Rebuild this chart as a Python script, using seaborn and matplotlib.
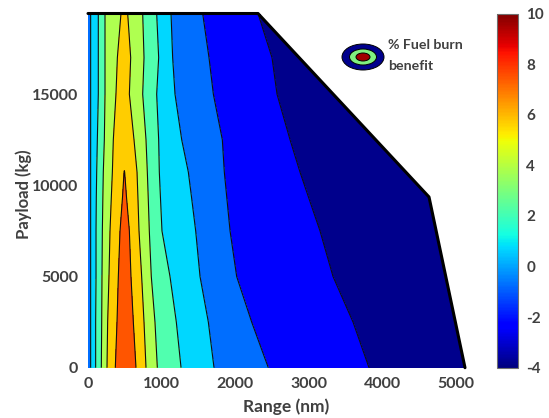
import numpy as np
import matplotlib
matplotlib.use('Agg')
import matplotlib.pyplot as plt
from matplotlib.cm import ScalarMappable
from matplotlib.colors import Normalize
from matplotlib.patches import Ellipse
import seaborn as sns

# payload values (kg) at which the contour crossings were read
payload = [0, 2500, 5000, 7500, 9360, 10730, 12500, 15000, 17000, 19420]

# range (nm) where each contour crosses, one list per contour, same order as payload
left_edge = [0, 0, 0, 0, 0, 0, 0, 0, 0, 0]
c_1_l = [36, 36, 36, 36, 36, 36, 36, 36, 36, 36]
c_3_l = [104, 104, 109, 109, 113, 118, 127, 140, 140, 140]
c_4_l = [181, 186, 190, 195, 202, 208, 222, 231, 231, 231]
c_6_l = [258, 267, 285, 299, 317, 331, 344, 380, 399, 448]
c_8_l = [371, 394, 412, 435, 469, 490, 475, 475, 480, 485]
top = [500, 500, 500, 500, 496, 494, 485, 485, 490, 492]
c_8_r = [652, 616, 584, 562, 523, 498, 495, 495, 500, 499]
c_6_r = [788, 761, 729, 693, 678, 666, 625, 562, 580, 539]
c_4_r = [942, 910, 860, 833, 818, 806, 788, 743, 761, 743]
c_3_r = [1264, 1200, 1114, 1005, 984, 969, 960, 933, 960, 933]
c_1_r = [1712, 1635, 1522, 1463, 1406, 1363, 1273, 1182, 1150, 1128]
c_m_r = [2450, 2224, 2020, 1930, 1885, 1852, 1825, 1703, 1644, 1558]
c_mm_r = [3818, 3601, 3329, 3152, 2995, 2880, 2745, 2568, 2500, 2310]
right_edge = [5122, 4992, 4861, 4730, 4633, 4317, 3908, 3331, 2869, 2320]

# fuel burn benefit (%) along each of those lists
z_left = -0.3
z_top_peak = [9.5, 9.5, 9.5, 9.5, 9.0, 8.26, 8.0, 8.0, 8.0, 8.0]
z_right = -3.0

levels = [-4, -2.25, -0.5, 1.25, 3, 4.75, 6.5, 8.25, 10]
band_colors = ['#00008c', '#0000ff', '#006eff', '#00d7ff',
               '#50ffaf', '#afff50', '#ffcd00', '#ff5500']

# flight envelope
env_range = [0, 2310, 4633, 5122]
env_payload = [19420, 19420, 9360, 0]

cbar_ticks = [-4, -2, 0, 2, 4, 6, 8, 10]
x_ticks = [0, 1000, 2000, 3000, 4000, 5000]
y_ticks = [0, 5000, 10000, 15000]

sns.set_theme(style='white')
plt.rcParams['font.family'] = ['Lato', 'DejaVu Sans']
plt.rcParams['axes.unicode_minus'] = False
grey = '#404040'

n = len(payload)
X = np.array([left_edge, c_1_l, c_3_l, c_4_l, c_6_l, c_8_l, top, c_8_r,
              c_6_r, c_4_r, c_3_r, c_1_r, c_m_r, c_mm_r, right_edge]).T
Y = np.tile(np.array(payload)[:, None], (1, X.shape[1]))
Z = np.zeros_like(X, dtype=float)
for i in range(n):
    below_tip = payload[i] <= 10730
    c8 = 8.25 if below_tip else 8.0
    Z[i] = [z_left, 1.25, 3, 4.75, 6.5, c8, z_top_peak[i], c8,
            6.5, 4.75, 3, 1.25, -0.5, -2.25, z_right]

fig = plt.figure(figsize=(5.49, 4.18), dpi=100)
ax = fig.add_axes([88 / 549, 1 - 367.7 / 418, 377 / 549, 354.2 / 418])
ax.contourf(X, Y, Z, levels=levels, colors=band_colors)
ax.contour(X, Y, Z, levels=levels[1:-1], colors='#101010', linewidths=0.8,
           negative_linestyles='solid')

env = sns.lineplot(x=env_range, y=env_payload, sort=False, estimator=None,
                   color='black', linewidth=2.2, ax=ax)
env.lines[-1].set_clip_on(False)

ax.set_xlim(0, 5122)
ax.set_ylim(0, 19420)
ax.set_xticks(x_ticks)
ax.set_yticks(y_ticks)
sns.despine(ax=ax, left=True, bottom=True)
ax.tick_params(length=0, labelsize=11.5, labelcolor=grey, pad=7)
for t in ax.get_xticklabels() + ax.get_yticklabels():
    t.set_fontweight('bold')
ax.set_xlabel('Range (nm)', fontsize=12.5, fontweight='bold', color=grey, labelpad=5, x=0.525)
ax.set_ylabel('Payload (kg)', fontsize=12, fontweight='bold', color=grey, labelpad=0, y=0.49)

# colorbar
cax = fig.add_axes([497 / 549, 1 - 367.7 / 418, 21 / 549, 354.2 / 418])
cb = fig.colorbar(ScalarMappable(Normalize(-4, 10), 'jet'), cax=cax)
cb.set_ticks(cbar_ticks)
cb.outline.set_edgecolor('#707070')
cb.outline.set_linewidth(0.8)
cax.tick_params(direction='in', length=2, width=0.6, color='#404040', labelsize=11,
                labelcolor=grey, pad=6)
for t in cax.get_yticklabels():
    t.set_fontweight('bold')

# little contour key
cx, cy = 363 / 549, 1 - 57 / 418
for w, h, col in [(42, 26, '#00008c'), (27, 16, '#80f080'), (14, 8, '#a00000')]:
    fig.add_artist(Ellipse((cx, cy), w / 549, h / 418, transform=fig.transFigure,
                           facecolor=col, edgecolor='black', linewidth=0.7))
fig.text(388 / 549, 1 - 45 / 418, '% Fuel burn', fontsize=10.2, fontweight='bold',
         color=grey, va='center')
fig.text(388 / 549, 1 - 66 / 418, 'benefit', fontsize=10.2, fontweight='bold',
         color=grey, va='center')

fig.savefig('out.png', dpi=100)
